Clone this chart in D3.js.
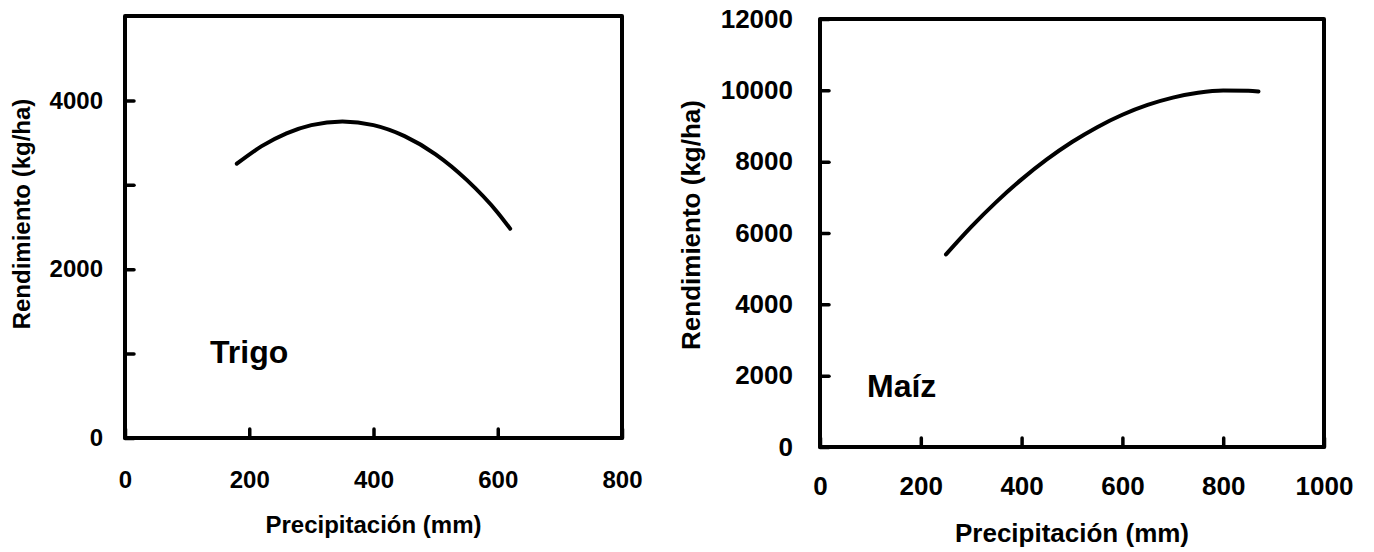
<!DOCTYPE html>
<html>
<head>
<meta charset="utf-8">
<script src="https://cdn.jsdelivr.net/npm/d3@7"></script>
<style>
	body { margin: 0; background: #fff; }
	svg { display: block; font-family: "Liberation Sans", Arial, sans-serif; font-weight: bold; }
	.frame { fill: none; stroke: #000; stroke-width: 4; stroke-linejoin: round; }
	.axis path { display: none; }
	.axis line { stroke: #000; stroke-width: 3.5; stroke-linecap: round; }
	.axis text { fill: #000; font-weight: bold; }
	.curve { fill: none; stroke: #000; stroke-width: 4; stroke-linecap: round; }
</style>
</head>
<body>
<div class="container"></div>
<script>
// Trigo
const wheatRain = [180, 220, 260, 300, 350, 400, 450, 500, 550, 600, 620];
const wheatYield = [3250, 3458, 3610, 3707, 3750, 3707, 3577, 3361, 3058, 2670, 2480];
const wheatXTicks = [0, 200, 400, 600, 800];
const wheatYTicks = [0, 1000, 2000, 3000, 4000];
const wheatYLabels = [0, 2000, 4000];

// Maíz
const maizeRain = [250, 300, 350, 400, 450, 500, 550, 600, 650, 700, 750, 800, 850, 870];
const maizeYield = [5400, 6171, 6872, 7503, 8062, 8550, 8968, 9315, 9591, 9796, 9931, 9994, 9987, 9965];
const maizeXTicks = [0, 200, 400, 600, 800, 1000];
const maizeYTicks = [0, 2000, 4000, 6000, 8000, 10000, 12000];

const xTitle = "Precipitación (mm)";
const yTitle = "Rendimiento (kg/ha)";

const svg = d3.select(".container")
	.append("svg")
		.attr("width", 1374)
		.attr("height", 552);

function drawPanel(opts) {

	const x = d3.scaleLinear().domain(opts.xDomain).range([opts.left, opts.right]);
	const y = d3.scaleLinear().domain(opts.yDomain).range([opts.bottom, opts.top]);

	const g = svg.append("g");

	g.append("rect")
		.attr("class", "frame")
		.attr("x", opts.left)
		.attr("y", opts.top)
		.attr("width", opts.right - opts.left)
		.attr("height", opts.bottom - opts.top);

	const xAxis = d3.axisBottom(x)
		.tickValues(opts.xTicks)
		.tickSizeInner(-9)
		.tickSizeOuter(0)
		.tickPadding(opts.xPad)
		.tickFormat(d3.format("d"));

	g.append("g")
		.attr("class", "axis")
		.attr("transform", `translate(0, ${ opts.bottom })`)
		.call(xAxis)
		.style("font-size", opts.tickFont + "px");

	const yAxis = d3.axisLeft(y)
		.tickValues(opts.yTicks)
		.tickSizeInner(-9)
		.tickSizeOuter(0)
		.tickPadding(opts.yPad)
		.tickFormat((d) => opts.yLabels.includes(d) ? d3.format("d")(d) : "");

	g.append("g")
		.attr("class", "axis")
		.attr("transform", `translate(${ opts.left }, 0)`)
		.call(yAxis)
		.style("font-size", opts.tickFont + "px");

	g.selectAll(".axis text").attr("font-family", null);

	const line = d3.line()
		.x((d) => x(d[0]))
		.y((d) => y(d[1]))
		.curve(d3.curveMonotoneX);

	g.append("path")
		.attr("class", "curve")
		.attr("d", line(d3.zip(opts.rain, opts.yield)));

	g.append("text")
		.text(xTitle)
		.attr("x", (opts.left + opts.right) / 2)
		.attr("y", opts.xTitleY)
		.attr("text-anchor", "middle")
		.style("font-size", opts.titleFont + "px");

	g.append("text")
		.text(yTitle)
		.attr("transform", `translate(${ opts.yTitleX }, ${ opts.yTitleMid }) rotate(-90)`)
		.attr("text-anchor", "middle")
		.style("font-size", opts.titleFont + "px");

	g.append("text")
		.text(opts.crop)
		.attr("x", opts.cropX)
		.attr("y", opts.cropY)
		.style("font-size", "32px");
}

drawPanel({
	left: 125, right: 622, top: 16, bottom: 438,
	xDomain: [0, 800], yDomain: [0, 5000],
	xTicks: wheatXTicks, yTicks: wheatYTicks, yLabels: wheatYLabels,
	xPad: 33, yPad: 22, tickFont: 24, titleFont: 24,
	rain: wheatRain, yield: wheatYield,
	xTitleY: 533, yTitleX: 30, yTitleMid: 214,
	crop: "Trigo", cropX: 210, cropY: 363
});

drawPanel({
	left: 820, right: 1324, top: 19, bottom: 447,
	xDomain: [0, 1000], yDomain: [0, 12000],
	xTicks: maizeXTicks, yTicks: maizeYTicks, yLabels: maizeYTicks,
	xPad: 30, yPad: 27, tickFont: 26, titleFont: 26,
	rain: maizeRain, yield: maizeYield,
	xTitleY: 542, yTitleX: 700, yTitleMid: 225,
	crop: "Maíz", cropX: 867, cropY: 397
});
</script>
</body>
</html>
